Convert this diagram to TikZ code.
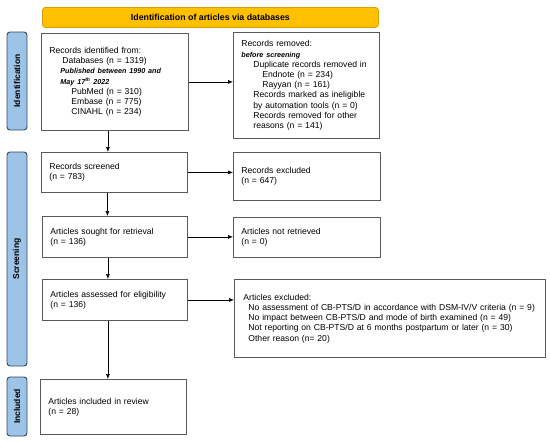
\documentclass[tikz,border=0pt]{standalone}
\usepackage{fontspec}
\setmainfont{Liberation Sans}
\usetikzlibrary{arrows.meta}

\definecolor{bannerfill}{HTML}{FFC000}
\definecolor{bannerline}{HTML}{D99E00}
\definecolor{phasefill}{HTML}{9DC3E6}
\definecolor{phaseline}{HTML}{2F4A66}
\definecolor{boxline}{HTML}{5A5A5A}

\newcommand{\smallit}[1]{{\fontsize{7.2}{9}\selectfont\bfseries\itshape #1}}

\begin{document}
\begin{tikzpicture}
    [
        x=1pt, y=-1pt,
        box/.style={draw=boxline, line width=0.8pt, align=left, anchor=north west,
            inner xsep=8pt, inner ysep=0pt, font=\fontsize{8.6}{10.2}\selectfont},
        phase/.style={draw=phaseline, line width=0.9pt, fill=phasefill, rounded corners=3pt,
            rotate=90, minimum height=20pt, inner sep=0pt, font=\fontsize{8.5}{10}\selectfont\bfseries},
        arrow/.style={-{Latex[length=5pt,width=4pt]}, line width=0.6pt},
    ]

    \useasboundingbox (0, 0) rectangle (550, 442);

    % banner
    \node [draw=bannerline, line width=0.8pt, fill=bannerfill, rounded corners=3pt,
        anchor=north west, minimum width=336pt, minimum height=20pt,
        font=\fontsize{8.8}{10}\selectfont\bfseries] (banner) at (42, 7)
        {Identification of articles via databases};

    % phases on the left
    \foreach \name/\yc/\len/\txt in
    {ident/81/98/Identification, screen/259/214/Screening, incl/406.5/59/Included}
    {
        \node [phase, minimum width=\len pt] (\name) at (17, \yc) {\txt};
    }

    % boxes
    \node [box, text width=131pt, minimum height=97pt] (identified) at (41, 33)
        {Records identified from:\\
        \hspace*{13pt}Databases (n = 1319)\\
        \hspace*{11pt}\smallit{Published between 1990 and}\\
        \hspace*{11pt}\smallit{May 17\textsuperscript{th} 2022}\\
        \hspace*{22pt}PubMed (n = 310)\\
        \hspace*{22pt}Embase (n = 775)\\
        \hspace*{22pt}CINAHL (n = 234)};
    \node [box, text width=130pt, minimum height=106pt] (removed) at (233, 32)
        {Records removed:\\
        \smallit{before screening}\\
        \hspace*{12pt}Duplicate records removed in\\
        \hspace*{21pt}Endnote (n = 234)\\
        \hspace*{21pt}Rayyan (n = 161)\\
        \hspace*{12pt}Records marked as ineligible\\
        \hspace*{12pt}by automation tools (n = 0)\\
        \hspace*{12pt}Records removed for other\\
        \hspace*{12pt}reasons (n = 141)};
    \node [box, text width=130pt, minimum height=40pt] (screened) at (41, 152)
        {Records screened\\(n = 783)};
    \node [box, text width=131pt, minimum height=48pt] (excluded) at (233, 152)
        {Records excluded\\(n = 647)\\[8pt]};
    \node [box, text width=129pt, minimum height=41pt] (sought) at (42, 216)
        {Articles sought for retrieval\\(n = 136)};
    \node [box, text width=131pt, minimum height=40pt] (notretrieved) at (233, 217)
        {Articles not retrieved\\(n = 0)};
    \node [box, text width=129pt, minimum height=41pt] (assessed) at (42, 279)
        {Articles assessed for eligibility\\(n = 136)};
    \node [box, text width=293pt, inner xsep=9pt, minimum height=78pt] (artexcluded) at (234, 279)
        {Articles excluded:\\
        \hspace*{5pt}\mbox{No assessment of CB-PTS/D in accordance with DSM-IV/V criteria (n = 9)}\\
        \hspace*{5pt}\mbox{No impact between CB-PTS/D and mode of birth examined (n = 49)}\\
        \hspace*{5pt}\mbox{Not reporting on CB-PTS/D at 6 months postpartum or later (n = 30)}\\
        \hspace*{5pt}Other reason (n= 20)};
    \node [box, text width=130pt, minimum height=55pt] (included) at (40, 379)
        {Articles included in review\\(n = 28)};

    % arrows to the right
    \foreach \a/\b in {identified/removed, screened/excluded, sought/notretrieved, assessed/artexcluded}
    {
        \draw [arrow] (\a.east) -- (\a.east -| \b.west);
    }
    % arrows down
    \foreach \a/\b in {identified/screened, screened/sought, sought/assessed, assessed/included}
    {
        \draw [arrow] ([xshift=-7pt]\a.south) -- ([xshift=-7pt]\a.south |- \b.north);
    }

\end{tikzpicture}
\end{document}
